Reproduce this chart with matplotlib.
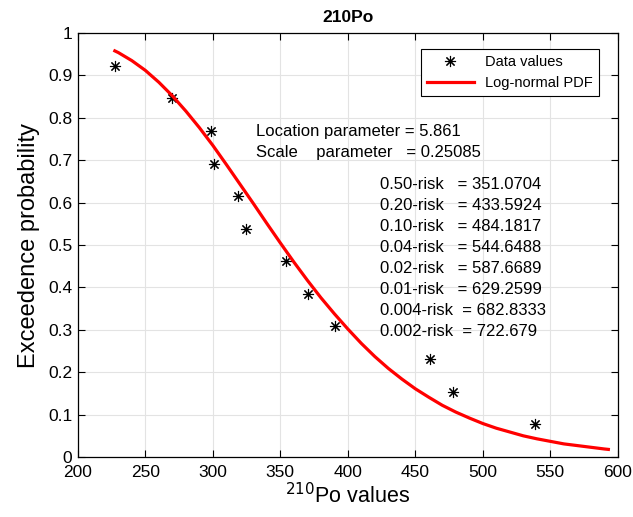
import matplotlib
matplotlib.use("Agg")
from matplotlib import pyplot as plt

plt.rcParams['font.family'] = ['Liberation Sans', 'DejaVu Sans']

# observed data (210Po values, exceedance probability)
data_x = [227.5, 270.0, 298.5, 301.0, 318.7, 324.2, 354.0, 370.6, 390.6, 460.7, 477.6, 538.7]
data_p = [0.923, 0.846, 0.769, 0.692, 0.615, 0.538, 0.462, 0.385, 0.308, 0.231, 0.154, 0.077]

# fitted log-normal exceedance curve
fit_x = [227.4, 230, 240, 250, 260, 270, 280, 290, 300, 310, 320, 330, 340,
         350, 360, 370, 380, 390, 400, 410, 420, 430, 440, 450, 460, 470,
         480, 490, 500, 510, 520, 530, 540, 550, 560, 570, 580, 590, 593]
fit_p = [0.958, 0.954, 0.935, 0.912, 0.884, 0.852, 0.816, 0.777, 0.735, 0.690,
         0.644, 0.598, 0.551, 0.505, 0.460, 0.417, 0.376, 0.338, 0.302, 0.268,
         0.237, 0.209, 0.184, 0.161, 0.141, 0.122, 0.106, 0.092, 0.079, 0.068,
         0.059, 0.050, 0.043, 0.037, 0.031, 0.027, 0.023, 0.019, 0.018]

param_lines = ['Location parameter = 5.861',
               'Scale    parameter   = 0.25085']
risk_lines = ['0.50-risk   = 351.0704',
              '0.20-risk   = 433.5924',
              '0.10-risk   = 484.1817',
              '0.04-risk   = 544.6488',
              '0.02-risk   = 587.6689',
              '0.01-risk   = 629.2599',
              '0.004-risk  = 682.8333',
              '0.002-risk  = 722.679']

fig = plt.figure(figsize=(6.33, 5.17), dpi=100)
ax = fig.add_axes([0.123, 0.116, 0.853, 0.820])

ax.plot(data_x, data_p, linestyle='none', marker=(8, 2, 0), markersize=8,
        markeredgewidth=0.8, color='black', label='Data values')
ax.plot(fit_x, fit_p, color=(1, 0, 0), linewidth=2.3, label='Log-normal PDF')

ax.set_xlim(200, 600)
ax.set_ylim(0, 1)
ax.set_xticks(range(200, 601, 50))
ax.set_yticks([i / 10 for i in range(11)])
ax.set_yticklabels(['0'] + ['0.%d' % i for i in range(1, 10)] + ['1'])
ax.grid(True, color='#e3e3e3', linewidth=0.8)
ax.set_axisbelow(True)
ax.tick_params(direction='in', top=True, right=True, labelsize=12.5,
               length=5, width=0.8, pad=4)
ax.tick_params(axis='x', pad=6)
for s in ax.spines.values():
    s.set_linewidth(0.9)

ax.set_title('210Po', fontsize=12.5, fontweight='bold', pad=8)
ax.set_xlabel(r'$^{210}$Po values', fontsize=15.5, labelpad=2)
ax.set_ylabel('Exceedence probability', fontsize=17, labelpad=6)

for i, t in enumerate(param_lines):
    ax.text(332, 0.769 - i * 0.05, t, fontsize=12, va='center')
for i, t in enumerate(risk_lines):
    ax.text(423.5, 0.642 - i * 0.0495, t, fontsize=12, va='center')

leg = ax.legend(loc='upper right', bbox_to_anchor=(0.965, 0.962), fontsize=10.5,
                fancybox=False, edgecolor='black', framealpha=1,
                handlelength=3.2, borderpad=0.4, labelspacing=0.5,
                borderaxespad=0)
leg.get_frame().set_linewidth(0.8)

plt.savefig('out.png', dpi=100)
